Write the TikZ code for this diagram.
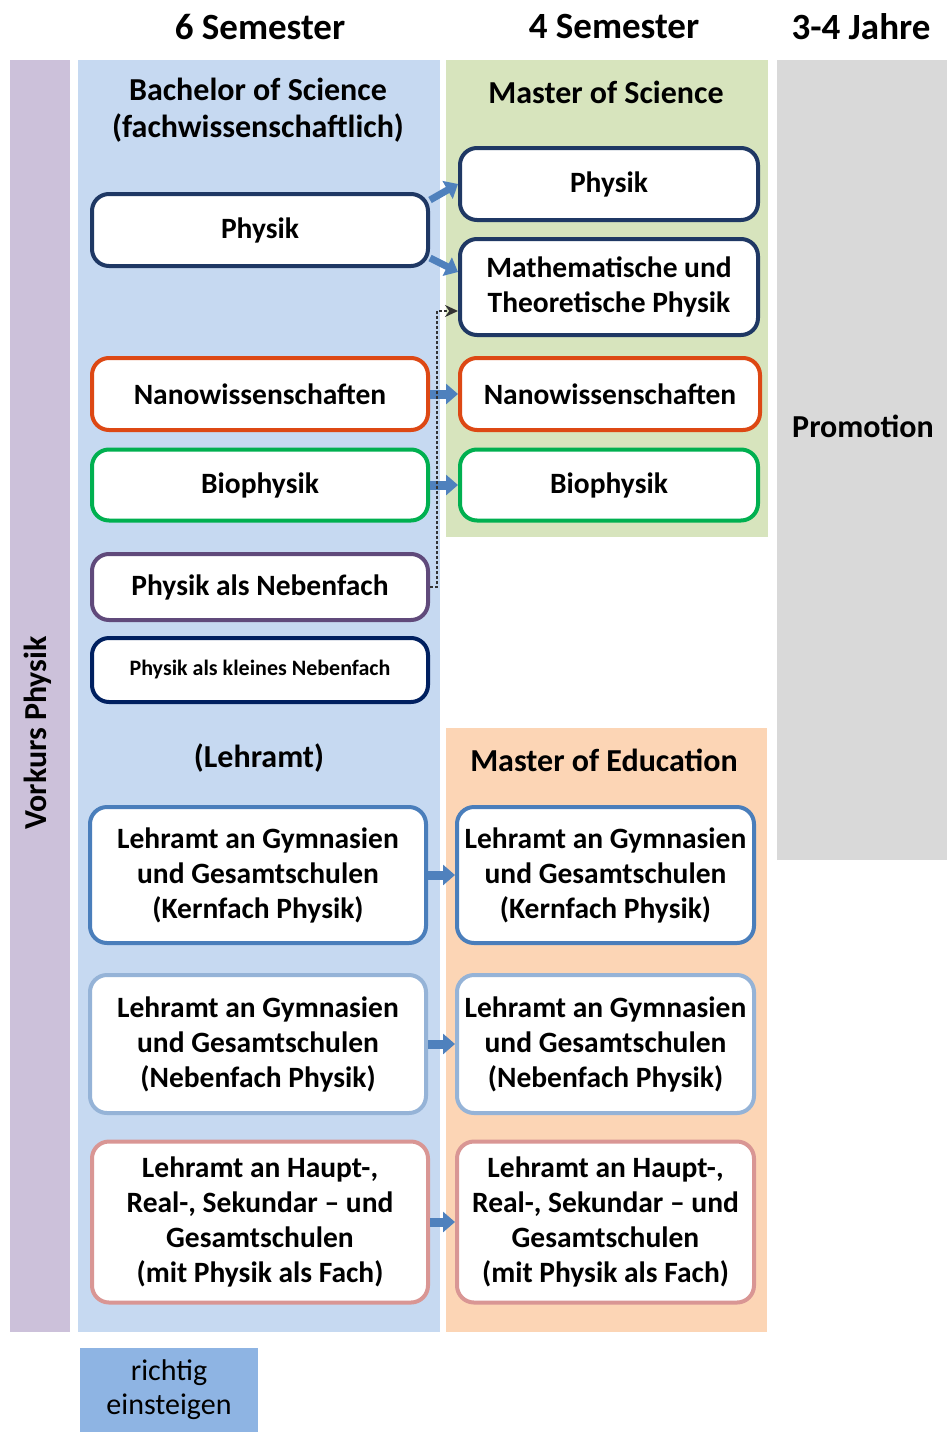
\documentclass[tikz,border=0pt]{standalone}
\usepackage{fontspec}
\setmainfont{Carlito}
\usetikzlibrary{arrows.meta, positioning}
\definecolor{vorkurscol}{HTML}{CCC1DA}
\definecolor{bsccol}{HTML}{C6D9F1}
\definecolor{msccol}{HTML}{D7E4BD}
\definecolor{medcol}{HTML}{FCD5B5}
\definecolor{promcol}{HTML}{D9D9D9}
\definecolor{einstcol}{HTML}{8EB4E3}
\definecolor{navy}{HTML}{1F3864}
\definecolor{darknavy}{HTML}{002060}
\definecolor{nanocol}{HTML}{DD4814}
\definecolor{biocol}{HTML}{00B050}
\definecolor{nebencol}{HTML}{604A7B}
\definecolor{kerncol}{HTML}{4A7EBB}
\definecolor{nfcol}{HTML}{95B3D7}
\definecolor{hrcol}{HTML}{D99694}
\definecolor{arrowcol}{HTML}{4F81BD}
\tikzstyle{prog}=[draw, rounded corners=17pt, fill=white, line width=4pt, align=center,
  inner sep=0pt, font=\bfseries\fontsize{29.5}{35}\selectfont]
\tikzstyle{head}=[font=\bfseries\fontsize{37}{40}\selectfont]
\tikzstyle{title}=[font=\bfseries\fontsize{32}{37}\selectfont, align=center]
\tikzstyle{blockarrow}=[arrowcol, line width=9pt, -{Triangle[width=20pt, length=12pt]}]

\begin{document}
\begin{tikzpicture}[x=1pt, y=-1pt]
    \useasboundingbox (0,0) rectangle (947,1432);
    % background columns
    \fill[vorkurscol] (10,60)  rectangle (70,1332);
    \fill[bsccol]     (78,60)  rectangle (440,1332);
    \fill[msccol]     (446,60) rectangle (768,537);
    \fill[medcol]     (446,728) rectangle (767,1332);
    \fill[promcol]    (777,60) rectangle (947,860);

    \node[head] (sem6)  at (260,27) {6 Semester};
    \node[head] (sem4)  at (614,27) {4 Semester};
    \node[head] (jahre) at (861,27) {3-4 Jahre};

    \node[title] (bsc)  at (258,110) {Bachelor of Science\\(fachwissenschaftlich)};
    \node[title] (msc)  at (606,92)  {Master of Science};
    \node[title] (prom) at (863,426) {Promotion};
    \node[title] (lehr) at (259,758) {(Lehramt)};
    \node[title] (med)  at (604,760) {Master of Education};
    \node[title, rotate=90] (vork) at (38,733) {Vorkurs Physik};

    % Bachelor
    \node[prog, draw=navy, minimum width=336pt, minimum height=72pt] (bphys) at (260,230) {Physik};
    \node[prog, draw=nanocol, minimum width=336pt, minimum height=72pt] (bnano) at (260,394) {Nanowissenschaften};
    \node[prog, draw=biocol, minimum width=336pt, minimum height=71pt] (bbio) at (260,485) {Biophysik};
    \node[prog, draw=nebencol, minimum width=336pt, minimum height=66pt] (bneben) at (260,587) {Physik als Nebenfach};
    \node[prog, draw=darknavy, minimum width=336pt, minimum height=64pt,
          font=\bfseries\fontsize{22}{26}\selectfont] (bklein) at (260,670) {Physik als kleines Nebenfach};
    \node[prog, draw=kerncol, minimum width=336pt, minimum height=136pt] (blgk) at (258,875)
      {Lehramt an Gymnasien\\und Gesamtschulen\\(Kernfach Physik)};
    \node[prog, draw=nfcol, minimum width=336pt, minimum height=138pt] (blgn) at (258,1044)
      {Lehramt an Gymnasien\\und Gesamtschulen\\(Nebenfach Physik)};
    \node[prog, draw=hrcol, minimum width=336pt, minimum height=161pt] (blhr) at (260,1222)
      {Lehramt an Haupt-,\\Real-, Sekundar -- und\\Gesamtschulen\\(mit Physik als Fach)};

    % Master
    \node[prog, draw=navy, minimum width=298pt, minimum height=72pt] (mphys) at (609,184) {Physik};
    \node[prog, draw=navy, minimum width=298pt, minimum height=96pt] (mmath) at (609,287)
      {Mathematische und\\Theoretische Physik};
    \node[prog, draw=nanocol, minimum width=300pt, minimum height=72pt] (mnano) at (610,394) {Nanowissenschaften};
    \node[prog, draw=biocol, minimum width=298pt, minimum height=71pt] (mbio) at (609,485) {Biophysik};
    \node[prog, draw=kerncol, minimum width=297pt, minimum height=136pt] (mlgk) at (605.5,875)
      {Lehramt an Gymnasien\\und Gesamtschulen\\(Kernfach Physik)};
    \node[prog, draw=nfcol, minimum width=297pt, minimum height=138pt] (mlgn) at (605.5,1044)
      {Lehramt an Gymnasien\\und Gesamtschulen\\(Nebenfach Physik)};
    \node[prog, draw=hrcol, minimum width=297pt, minimum height=161pt] (mlhr) at (605.5,1222)
      {Lehramt an Haupt-,\\Real-, Sekundar -- und\\Gesamtschulen\\(mit Physik als Fach)};

    \node[fill=einstcol, minimum width=178pt, minimum height=85pt, align=center,
          font=\fontsize{30}{34}\selectfont] (einst) at (169,1390) {richtig\\einsteigen};

    % Uebergaenge
    \draw[blockarrow, line width=7pt] ([yshift=30pt]bphys.east) -- (mphys.west);
    \draw[blockarrow, line width=7pt] ([yshift=-28pt]bphys.east) -- ([yshift=15pt]mmath.west);
    \path[blockarrow]
      (bnano) edge (mnano)
      (bbio)  edge (mbio)
      (blgk)  edge (mlgk)
      (blgn)  edge (mlgn)
      (blhr)  edge (mlhr);
    \draw[dash pattern=on 3pt off 2pt, line width=2pt, black!80, -{Stealth[length=13pt, width=12pt]}]
      (bneben.east) -- ++(7,0) |- ([yshift=-24pt]mmath.west);
\end{tikzpicture}
\end{document}
